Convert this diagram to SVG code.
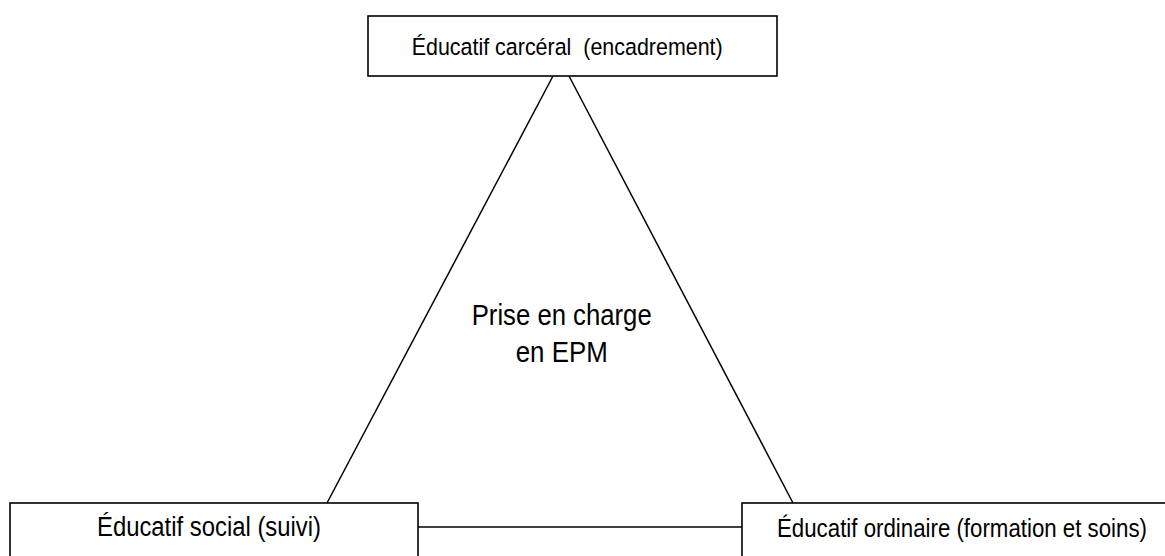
<svg xmlns="http://www.w3.org/2000/svg" width="1165" height="556" viewBox="0 0 1165 556">
<style>
.box{fill:#fff;stroke:#000;stroke-width:1.6}
.ln{fill:none;stroke:#000;stroke-width:1.5}
text{font-family:"Liberation Sans",Arial,sans-serif;fill:#000;white-space:pre}
</style>
<rect width="1165" height="556" fill="#fff"/>
<g id="connectors">
<line class="ln" x1="553" y1="76" x2="327" y2="503"/>
<line class="ln" x1="569" y1="76" x2="793" y2="503"/>
<line class="ln" x1="418" y1="527" x2="742" y2="527"/>
</g>
<g id="node-carceral">
<rect class="box" x="368" y="16" width="409" height="60"/>
<text x="411.7" y="54.5" font-size="24.5" textLength="311" lengthAdjust="spacingAndGlyphs" xml:space="preserve">Éducatif carcéral  (encadrement)</text>
</g>
<g id="node-social">
<rect class="box" x="10" y="503" width="408" height="70"/>
<text x="97" y="536" font-size="27" textLength="224" lengthAdjust="spacingAndGlyphs">Éducatif social (suivi)</text>
</g>
<g id="node-ordinaire">
<rect class="box" x="742" y="503" width="440" height="70"/>
<text x="777" y="537" font-size="25" textLength="370" lengthAdjust="spacingAndGlyphs">Éducatif ordinaire (formation et soins)</text>
</g>
<g id="center">
<text x="561.7" y="325" font-size="30" text-anchor="middle" textLength="180" lengthAdjust="spacingAndGlyphs">Prise en charge</text>
<text x="561.7" y="362" font-size="30" text-anchor="middle" textLength="92" lengthAdjust="spacingAndGlyphs">en EPM</text>
</g>
</svg>
